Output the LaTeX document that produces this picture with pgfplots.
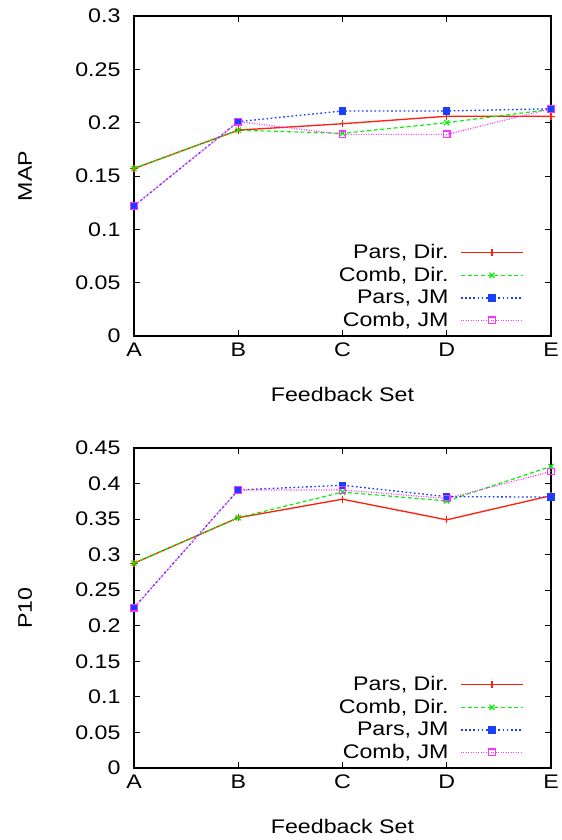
\documentclass[border=0pt]{standalone}
\usepackage{fontspec}
\setmainfont{Liberation Sans}[FakeStretch=1.18]
\usepackage{pgfplots}
\pgfplotsset{compat=1.18}
\definecolor{gpred}{rgb}{1,0.12,0.05}
\definecolor{gpgreen}{rgb}{0,0.95,0}
\definecolor{gpblue}{rgb}{0.1,0.25,1}
\definecolor{gpmag}{rgb}{1,0.2,1}
\pgfplotsset{
  gp/.style={
    scale only axis, width=250.2pt, height=192pt,
    xmin=0, xmax=4, xtick={0,1,2,3,4}, xticklabels={A,B,C,D,E},
    xlabel={Feedback Set},
    scaled y ticks=false,
    yticklabel style={/pgf/number format/fixed,/pgf/number format/precision=2, xshift=-4pt},
    /pgf/number format/assume math mode=true,
    tick align=inside, major tick length=3.5pt,
    tick style={black, line width=0.5pt},
    axis line style={line width=0.7pt},
    clip=false,
    every axis x label/.style={at={(axis description cs:0.5,-0.184)},anchor=center},
    every axis y label/.style={at={(axis description cs:-0.261,0.5)},anchor=center,rotate=90},
    legend plot pos=right,
    legend cell align=right,
    legend style={draw=none, fill=none, at={(0.947,0.0)}, anchor=south east, row sep=-0.6pt, column sep=5pt,
      font=\fontsize{11.8}{13}\selectfont},
    legend image code/.code={\draw[mark repeat=2,mark phase=2] plot coordinates {(0pt,0pt) (18.6pt,0pt) (37.2pt,0pt)};},
  },
  s1/.style={color=gpred, solid, line width=0.8pt, mark=+, mark size=2.2pt, mark options={solid}},
  s2/.style={color=gpgreen, dash pattern=on 2.4pt off 1.6pt, line width=0.7pt, mark=x, mark size=2.2pt, mark options={solid}},
  s3/.style={color=gpblue, dash pattern=on 1pt off 1.5pt, line width=0.8pt, mark=square*, mark size=1.8pt, mark options={solid}},
  s4/.style={color=gpmag, dash pattern=on 0.6pt off 0.9pt, line width=0.7pt, mark=square, mark size=2pt, mark options={solid}},
}
\begin{document}
\fontsize{11.8}{13}\selectfont
\begin{tikzpicture}
\useasboundingbox (-80.4pt,-302.4pt) rectangle (256.8pt,201.6pt);
\begin{axis}[gp, ymin=0, ymax=0.3, ytick={0,0.05,...,0.3}, ylabel={MAP}]
\addplot[s1] coordinates {(0,0.157)(1,0.193)(2,0.199)(3,0.206)(4,0.206)};
\addlegendentry{Pars, Dir.}
\addplot[s2] coordinates {(0,0.157)(1,0.193)(2,0.190)(3,0.200)(4,0.2125)};
\addlegendentry{Comb, Dir.}
\addplot[s3] coordinates {(0,0.122)(1,0.201)(2,0.211)(3,0.211)(4,0.213)};
\addlegendentry{Pars, JM}
\addplot[s4] coordinates {(0,0.122)(1,0.201)(2,0.189)(3,0.189)(4,0.213)};
\addlegendentry{Comb, JM}
\end{axis}
\begin{axis}[gp, at={(0pt,-259.2pt)}, ymin=0, ymax=0.45, ytick={0,0.05,...,0.45}, ylabel={P10}]
\addplot[s1] coordinates {(0,0.288)(1,0.352)(2,0.378)(3,0.349)(4,0.383)};
\addlegendentry{Pars, Dir.}
\addplot[s2] coordinates {(0,0.288)(1,0.352)(2,0.388)(3,0.3755)(4,0.424)};
\addlegendentry{Comb, Dir.}
\addplot[s3] coordinates {(0,0.2255)(1,0.391)(2,0.3976)(3,0.3816)(4,0.381)};
\addlegendentry{Pars, JM}
\addplot[s4] coordinates {(0,0.2255)(1,0.391)(2,0.391)(3,0.379)(4,0.417)};
\addlegendentry{Comb, JM}
\end{axis}
\end{tikzpicture}
\end{document}
